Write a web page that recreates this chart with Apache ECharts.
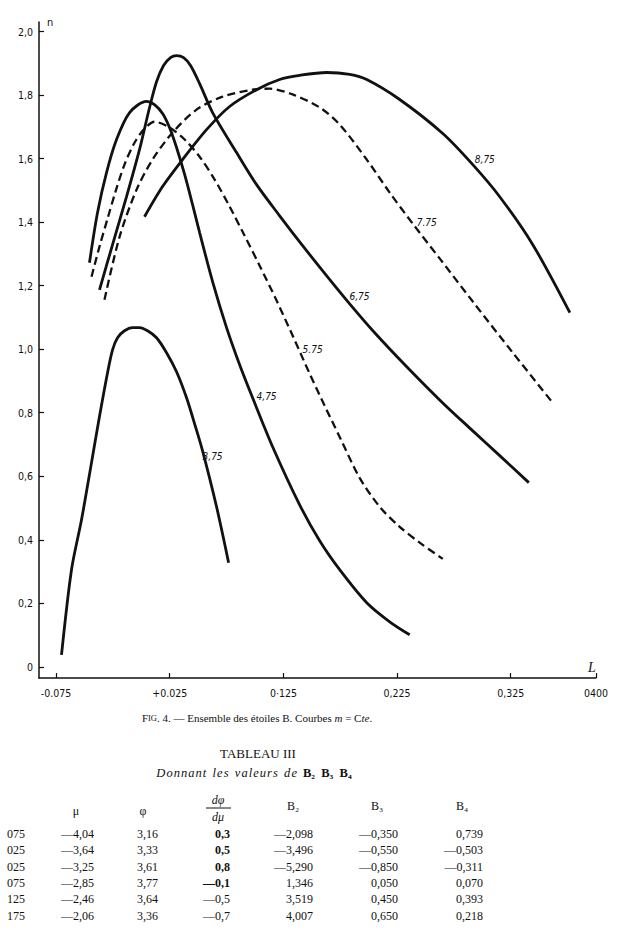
<!DOCTYPE html>
<html>
<head>
<meta charset="utf-8">
<script src="https://cdn.jsdelivr.net/npm/echarts@6.0.0/dist/echarts.min.js"></script>
<style>
html, body { margin: 0; padding: 0; background: #fff; }
#main { width: 618px; height: 939px; }
</style>
</head>
<body>
<div id="main"></div>
<script>
// axes
var xTickValues = [-0.075, 0.025, 0.125, 0.225, 0.325, 0.400];
var xTickLabels = ['-0.075', '+0.025', '0·125', '0,225', '0,325', '0400'];
var yTickValues = [0, 0.2, 0.4, 0.6, 0.8, 1.0, 1.2, 1.4, 1.6, 1.8, 2.0];
var yTickLabels = ['0', '0,2', '0,4', '0,6', '0,8', '1,0', '1,2', '1,4', '1,6', '1,8', '2,0'];

// courbes m = Cte  [L, n]
var curveNames = ['3,75', '4,75', '5.75', '6,75', '7.75', '8,75'];
var curveDashed = [false, false, true, false, true, false];
var curve375 = [[-0.0702, 0.038], [-0.0614, 0.306], [-0.0526, 0.463], [-0.0438, 0.643],
    [-0.0368, 0.788], [-0.0297, 0.926], [-0.0253, 0.998], [-0.0209, 1.036], [-0.0148, 1.058],
    [-0.0077, 1.068], [-0.0016, 1.068], [0.0055, 1.058], [0.0134, 1.036], [0.0222, 0.989],
    [0.0310, 0.929], [0.0398, 0.847], [0.0469, 0.765], [0.0539, 0.680], [0.0662, 0.504], [0.0768, 0.328]];
var curve475 = [[-0.0456, 1.272], [-0.0385, 1.430], [-0.0306, 1.556], [-0.0218, 1.660], [-0.0103, 1.745],
    [0.0046, 1.780], [0.0116, 1.770], [0.0187, 1.742], [0.0248, 1.698], [0.0310, 1.635],
    [0.0381, 1.550], [0.0451, 1.455], [0.0513, 1.367], [0.0627, 1.213], [0.0750, 1.068],
    [0.0865, 0.951], [0.0979, 0.847], [0.1155, 0.693], [0.1393, 0.510], [0.1569, 0.397],
    [0.1745, 0.306], [0.1983, 0.202], [0.2185, 0.142], [0.2361, 0.101]];
var curve575 = [[-0.0438, 1.228], [-0.0368, 1.323], [-0.0297, 1.411], [-0.0227, 1.496], [-0.0148, 1.581],
    [-0.0060, 1.650], [0.0028, 1.694], [0.0116, 1.716], [0.0248, 1.698], [0.0381, 1.660],
    [0.0513, 1.606], [0.0645, 1.534], [0.0777, 1.449], [0.0909, 1.357], [0.1041, 1.263],
    [0.1190, 1.153], [0.1331, 1.043], [0.1481, 0.923], [0.1613, 0.822], [0.1745, 0.724],
    [0.1921, 0.595], [0.2097, 0.504], [0.2273, 0.441], [0.2449, 0.391], [0.2652, 0.340]];
var curve675 = [[-0.0368, 1.187], [-0.0253, 1.329], [-0.0130, 1.480], [-0.0016, 1.628], [0.0072, 1.760],
    [0.0134, 1.842], [0.0196, 1.893], [0.0257, 1.918], [0.0310, 1.924], [0.0372, 1.918],
    [0.0433, 1.893], [0.0513, 1.836], [0.0627, 1.745], [0.0838, 1.619], [0.1014, 1.518],
    [0.1217, 1.420], [0.1419, 1.326], [0.1631, 1.231], [0.1833, 1.143], [0.2053, 1.052],
    [0.2335, 0.945], [0.2652, 0.831], [0.2916, 0.743], [0.3153, 0.665], [0.3409, 0.580]];
var curve775 = [[-0.0324, 1.156], [-0.0191, 1.354], [-0.0042, 1.502], [0.0099, 1.597], [0.0275, 1.682],
    [0.0486, 1.754], [0.0715, 1.795], [0.0979, 1.817], [0.1129, 1.820], [0.1331, 1.802],
    [0.1569, 1.761], [0.1745, 1.707], [0.1983, 1.597], [0.2185, 1.493], [0.2388, 1.395],
    [0.2626, 1.285], [0.2916, 1.150], [0.3268, 0.989], [0.3620, 0.831]];
var curve875 = [[0.0028, 1.417], [0.0187, 1.512], [0.0363, 1.597], [0.0574, 1.691], [0.0777, 1.764],
    [0.1014, 1.817], [0.1217, 1.849], [0.1393, 1.862], [0.1631, 1.871], [0.1833, 1.865],
    [0.1983, 1.849], [0.2273, 1.786], [0.2652, 1.679], [0.2916, 1.581], [0.3153, 1.480],
    [0.3444, 1.329], [0.3770, 1.115]];
var curveLabelAt = [[0.0627, 0.661], [0.1102, 0.850], [0.1507, 0.998], [0.1920, 1.166], [0.2511, 1.398], [0.3022, 1.597]];

// TABLEAU III (colonne de gauche coupée dans l'original)
var tabL = ['075', '025', '025', '075', '125', '175'];
var tabMu = ['—4,04', '—3,64', '—3,25', '—2,85', '—2,46', '—2,06'];
var tabPhi = ['3,16', '3,33', '3,61', '3,77', '3,64', '3,36'];
var tabDphi = ['0,3', '0,5', '0,8', '—0,1', '—0,5', '—0,7'];
var tabB2 = ['—2,098', '—3,496', '—5,290', '1,346', '3,519', '4,007'];
var tabB3 = ['—0,350', '—0,550', '—0,850', '0,050', '0,450', '0,650'];
var tabB4 = ['0,739', '—0,503', '—0,311', '0,070', '0,393', '0,218'];

var curves = [curve375, curve475, curve575, curve675, curve775, curve875];
var drawFont = "'DejaVu Sans Condensed', 'DejaVu Sans', sans-serif";
var serif = "'Liberation Serif', 'DejaVu Serif', serif";

var chart = echarts.init(document.getElementById('main'), null, { renderer: 'svg' });

var series = [];
for (var i = 0; i < curves.length; i++) {
    series.push({
        type: 'line',
        data: curves[i],
        smooth: 0.3,
        showSymbol: false,
        silent: true,
        lineStyle: {
            color: '#111',
            width: curveDashed[i] ? 2.3 : 2.8,
            type: curveDashed[i] ? [8, 4.5] : 'solid'
        },
        markPoint: {
            symbol: 'circle',
            symbolSize: 0,
            silent: true,
            itemStyle: { color: 'transparent' },
            label: {
                show: true,
                position: 'inside',
                formatter: curveNames[i],
                color: '#111',
                fontFamily: drawFont,
                fontStyle: 'italic',
                fontSize: 10
            },
            data: [{ coord: curveLabelAt[i] }]
        }
    });
}

// texte sous la figure
var graphics = [];
function txt(x, y, text, opt) {
    opt = opt || {};
    graphics.push({
        type: 'text',
        x: x,
        y: y,
        silent: true,
        style: {
            text: text,
            fill: '#111',
            font: opt.font || ('12px ' + serif),
            align: opt.align || 'right',
            verticalAlign: 'middle',
            rich: opt.rich
        }
    });
}

txt(257, 718, '{r|F}{s|IG}{r|. 4. — Ensemble des étoiles B. Courbes }{i|m}{r| = C}{i|te}{r|.}', {
    align: 'center',
    rich: {
        r: { fontFamily: serif, fontSize: 11, fill: '#111' },
        s: { fontFamily: serif, fontSize: 8.5, fill: '#111' },
        i: { fontFamily: serif, fontSize: 11, fontStyle: 'italic', fill: '#111' }
    }
});
txt(258, 753, 'TABLEAU III', { align: 'center', font: '13px ' + serif });
var hs = '\u200A';
txt(254, 773, '{i|' + 'Donnant'.split('').join(hs) + '  ' + 'les'.split('').join(hs) + '  ' +
    'valeurs'.split('').join(hs) + '  ' + 'de'.split('').join(hs) + '}  {b|B₂  B₃  B₄}', {
    align: 'center',
    rich: {
        i: { fontFamily: serif, fontSize: 12.5, fontStyle: 'italic', fill: '#111' },
        b: { fontFamily: serif, fontSize: 12.5, fontWeight: 'bold', fill: '#111' }
    }
});

// en-tetes
txt(76, 811, 'μ', { align: 'center' });
txt(143, 811, 'φ', { align: 'center' });
txt(218, 800, 'dφ', { align: 'center', font: 'italic 12px ' + serif });
txt(218, 817, 'dμ', { align: 'center', font: 'italic 12px ' + serif });
graphics.push({
    type: 'line', silent: true,
    shape: { x1: 206, y1: 808, x2: 231, y2: 808 },
    style: { stroke: '#111', lineWidth: 1 }
});
txt(293, 806, 'B₂', { align: 'center' });
txt(377, 806, 'B₃', { align: 'center' });
txt(462, 806, 'B₄', { align: 'center' });

var tabCols = [tabL, tabMu, tabPhi, tabDphi, tabB2, tabB3, tabB4];
var tabRight = [25, 94, 158, 230, 313, 398, 483];
for (var c = 0; c < tabCols.length; c++) {
    for (var r = 0; r < tabCols[c].length; r++) {
        var bold = (c === 3 && r < 4);
        txt(tabRight[c], 834 + r * 16.3, tabCols[c][r], {
            font: (bold ? 'bold ' : '') + '12px ' + serif
        });
    }
}

function tickLabel(values, labels) {
    return function (v) {
        for (var k = 0; k < values.length; k++) {
            if (Math.abs(values[k] - v) < 1e-6) return labels[k];
        }
        return '';
    };
}

var option = {
    backgroundColor: '#fff',
    animation: false,
    grid: { left: 39, right: 22, top: 22, bottom: 261 },
    xAxis: {
        type: 'value',
        min: -0.09,
        max: 0.40,
        name: 'L',
        nameLocation: 'end',
        nameGap: -8,
        nameTextStyle: {
            color: '#111', fontFamily: serif, fontStyle: 'italic', fontSize: 14,
            verticalAlign: 'bottom', padding: [0, 0, 4, 0]
        },
        axisLine: { onZero: false, lineStyle: { color: '#111', width: 1.5 } },
        axisTick: {
            show: true, inside: true, length: 5,
            customValues: xTickValues,
            lineStyle: { color: '#111', width: 1.2 }
        },
        axisLabel: {
            customValues: xTickValues,
            margin: 9,
            color: '#111',
            fontFamily: drawFont,
            fontSize: 10.5,
            formatter: tickLabel(xTickValues, xTickLabels)
        },
        splitLine: { show: false }
    },
    yAxis: {
        type: 'value',
        min: -0.035,
        max: 2.03,
        name: 'n',
        nameLocation: 'end',
        nameGap: -6,
        nameTextStyle: {
            color: '#111', fontFamily: drawFont, fontSize: 11,
            align: 'left', padding: [0, 0, 0, 8]
        },
        axisLine: { show: true, onZero: false, lineStyle: { color: '#111', width: 1.5 } },
        axisTick: {
            show: true, inside: true, length: 5,
            customValues: yTickValues,
            lineStyle: { color: '#111', width: 1.2 }
        },
        axisLabel: {
            customValues: yTickValues,
            margin: 6,
            color: '#111',
            fontFamily: drawFont,
            fontSize: 10.5,
            formatter: tickLabel(yTickValues, yTickLabels)
        },
        splitLine: { show: false }
    },
    series: series,
    graphic: graphics
};

chart.setOption(option);
</script>
</body>
</html>
